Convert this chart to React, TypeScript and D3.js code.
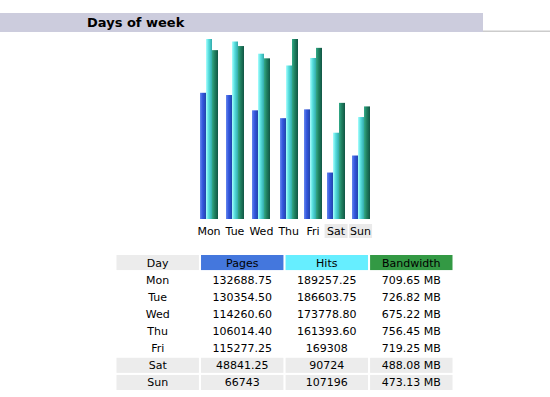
import React, { useRef, useEffect } from "react";
import * as d3 from "d3";

const days = ["Mon", "Tue", "Wed", "Thu", "Fri", "Sat", "Sun"];
const weekend = ["Sat", "Sun"];
const pages = [132688.75, 130354.5, 114260.6, 106014.4, 115277.25, 48841.25, 66743];
const hits = [189257.25, 186603.75, 173778.8, 161393.6, 169308, 90724, 107196];
const bandwidth = [709.65, 726.82, 675.22, 756.45, 719.25, 488.08, 473.13];
const columns = ["Day", "Pages", "Hits", "Bandwidth"];

const fmt = (v: number) => (Number.isInteger(v) ? String(v) : v.toFixed(2));

export default function App() {
  const ref = useRef<SVGSVGElement | null>(null);

  useEffect(() => {
    if (!ref.current) return;
    const svg = d3.select(ref.current);
    svg.selectAll("*").remove();
    const font = "DejaVu Sans, Verdana, sans-serif";

    // gradients for bars
    const defs = svg.append("defs");
    const grads = [
      { id: "gp", c: ["#6688ee", "#3355dd", "#2244aa"] },
      { id: "gh", c: ["#aaffff", "#55dddd", "#33aaaa"] },
      { id: "gb", c: ["#33aa88", "#1f8060", "#115544"] },
    ];
    grads.forEach(g => {
      const lg = defs.append("linearGradient").attr("id", g.id).attr("x1", 0).attr("x2", 1).attr("y1", 0).attr("y2", 0);
      lg.append("stop").attr("offset", "0%").attr("stop-color", g.c[0]);
      lg.append("stop").attr("offset", "45%").attr("stop-color", g.c[1]);
      lg.append("stop").attr("offset", "100%").attr("stop-color", g.c[2]);
    });

    // title band
    svg.append("rect").attr("x", 0).attr("y", 13).attr("width", 483).attr("height", 19).attr("fill", "#ccccdd");
    svg.append("rect").attr("x", 483).attr("y", 30.5).attr("width", 67).attr("height", 1.5).attr("fill", "#cccccc");
    svg.append("text").attr("x", 87).attr("y", 27).attr("font-family", font).attr("font-weight", "bold")
      .attr("font-size", 13).attr("fill", "#000").text("Days of week");

    // labels first, so the column widths follow the text like the html table cells
    const lab = svg.append("g");
    const texts = lab.selectAll("text").data(days).join("text")
      .attr("y", 235).attr("text-anchor", "middle")
      .attr("font-family", font).attr("font-size", 11).attr("fill", "#000")
      .text(d => d);
    const widths = texts.nodes().map(n => Math.max(18, (n as SVGTextElement).getComputedTextLength()));
    const centers: number[] = [];
    widths.forEach((w, i) => {
      centers.push(i === 0 ? 209 : centers[i - 1] + (widths[i - 1] + w) / 2 + 5);
    });
    const x = d3.scaleOrdinal<string, number>().domain(days).range(centers);
    texts.attr("x", d => x(d));
    lab.selectAll("rect").data(days.filter(d => weekend.includes(d))).join("rect")
      .attr("x", d => x(d) - 11.5)
      .attr("y", 224).attr("width", 23).attr("height", 14).attr("fill", "#eaeaea")
      .lower();

    const series = ["pages", "hits", "bandwidth"];
    const xs = d3.scaleBand().domain(series).range([-9, 9]);
    const y = d3.scaleLinear().domain([0, d3.max(hits)!]).range([219, 39]);
    const yb = d3.scaleLinear().domain([0, d3.max(bandwidth)!]).range([219, 39]);

    const bars = svg.append("g");
    days.forEach((d, i) => {
      const vals = [
        { s: "pages", top: y(pages[i]), g: "gp" },
        { s: "hits", top: y(hits[i]), g: "gh" },
        { s: "bandwidth", top: yb(bandwidth[i]), g: "gb" },
      ];
      bars.selectAll(null).data(vals).join("rect")
        .attr("x", v => Math.round(x(d) + xs(v.s)!))
        .attr("y", v => v.top)
        .attr("width", xs.bandwidth())
        .attr("height", v => 219 - v.top)
        .attr("fill", v => `url(#${v.g})`);
    });

    // table
    const cx = d3.scaleBand().domain(columns).range([116.5, 452.5]).paddingInner(0.025);
    const ry = d3.scaleBand().domain(["head", ...days]).range([255, 390]).paddingInner(0.12);
    const headFill: Record<string, string> = { Day: "#ececec", Pages: "#4477dd", Hits: "#66eeff", Bandwidth: "#339944" };

    const t = svg.append("g").attr("font-family", font).attr("font-size", 11).attr("fill", "#000");
    columns.forEach(c => {
      t.append("rect").attr("x", cx(c)!).attr("y", ry("head")!).attr("width", cx.bandwidth())
        .attr("height", ry.bandwidth()).attr("fill", headFill[c]);
      t.append("text").attr("x", cx(c)! + cx.bandwidth() / 2).attr("y", ry("head")! + ry.bandwidth() / 2 + 4)
        .attr("text-anchor", "middle").text(c);
    });
    days.forEach((d, i) => {
      const cells = [d, fmt(pages[i]), fmt(hits[i]), bandwidth[i].toFixed(2) + " MB"];
      columns.forEach((c, j) => {
        if (weekend.includes(d)) {
          t.append("rect").attr("x", cx(c)!).attr("y", ry(d)!).attr("width", cx.bandwidth())
            .attr("height", ry.bandwidth()).attr("fill", "#ececec");
        }
        t.append("text").attr("x", cx(c)! + cx.bandwidth() / 2).attr("y", ry(d)! + ry.bandwidth() / 2 + 4)
          .attr("text-anchor", "middle").text(cells[j]);
      });
    });
  }, []);

  return (
    <svg ref={ref} width={550} height={397} style={{ position: "absolute", left: 0, top: 0, background: "#fff" }} />
  );
}
